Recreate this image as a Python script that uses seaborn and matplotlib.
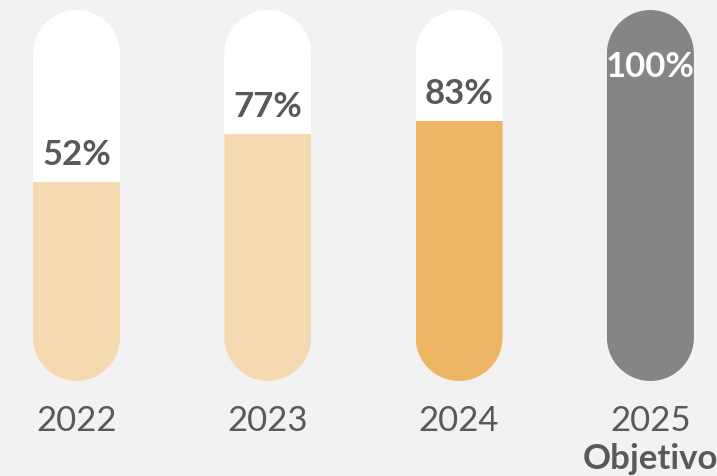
import matplotlib
matplotlib.use("Agg")
import matplotlib.pyplot as plt
from matplotlib.patches import Polygon
import seaborn as sns
import pandas as pd
import numpy as np

# ---- data ----
years = ["2022", "2023", "2024", "2025"]
values = [52, 77, 83, 100]                 # labelled percentages
fill_levels = [53.6, 66.6, 70.1, 100]      # fill heights as drawn in the picture
value_labels = ["52%", "77%", "83%", "100%"]
sub_labels = ["", "", "", "Objetivo"]
fill_colors = ["#f5d9b1", "#f5d9b1", "#ecb664", "#848587"]
label_colors = ["#58595b", "#58595b", "#58595b", "#ffffff"]

BG = "#f2f2f2"
TEXT = "#58595b"

sns.set_theme(style="white")
plt.rcParams["font.family"] = ["Lato", "DejaVu Sans"]

W, H, DPI = 717, 477, 100
fig = plt.figure(figsize=(W / DPI, H / DPI), dpi=DPI, facecolor=BG)
bottom_px, top_px = 95, 466
ax = fig.add_axes([0, bottom_px / H, 1, (top_px - bottom_px) / H])
ax.set_facecolor(BG)

df = pd.DataFrame({"year": years, "level": fill_levels, "full": [100] * len(years)})

bar_w = 0.455
sns.barplot(data=df, x="year", y="full", color="white", width=bar_w,
            saturation=1, ax=ax, zorder=1)
n_bg = len(ax.patches)
sns.barplot(data=df, x="year", y="level", hue="year", palette=fill_colors,
            width=bar_w, saturation=1, legend=False, ax=ax, zorder=2)

spacing_px = 191.3
ax.set_xlim(-76.5 / spacing_px, -76.5 / spacing_px + W / spacing_px)
ax.set_ylim(0, 100)
ax.axis("off")

# pill clip shapes (semicircular ends in screen space)
px_per_x = spacing_px
px_per_y = (top_px - bottom_px) / 100.0
rx = bar_w / 2
ry = rx * px_per_x / px_per_y
t_top = np.linspace(0, np.pi, 60)
t_bot = np.linspace(np.pi, 2 * np.pi, 60)
for i in range(len(years)):
    top = np.column_stack([i + rx * np.cos(t_top), 100 - ry + ry * np.sin(t_top)])
    bot = np.column_stack([i + rx * np.cos(t_bot), ry + ry * np.sin(t_bot)])
    pill = Polygon(np.vstack([top, bot]), closed=True, transform=ax.transData,
                   facecolor="none", edgecolor="none")
    for p in (ax.patches[i], ax.patches[n_bg + i]):
        p.set_clip_path(pill)
        p.set_edgecolor("none")
        p.set_linewidth(0)

for i, (lvl, lab) in enumerate(zip(fill_levels, value_labels)):
    y = min(lvl + 7.6, 85.0)
    ax.text(i, y, lab, ha="center", va="center", fontsize=25, fontweight="bold",
            color=label_colors[i], zorder=5)
    ax.text(i, -10.4, years[i], ha="center", va="center", fontsize=25,
            color=TEXT, clip_on=False)
    if sub_labels[i]:
        ax.text(i, -20.8, sub_labels[i], ha="center", va="center", fontsize=25,
                fontweight="bold", color=TEXT, clip_on=False)

fig.savefig("out.png", dpi=DPI, facecolor=BG)
